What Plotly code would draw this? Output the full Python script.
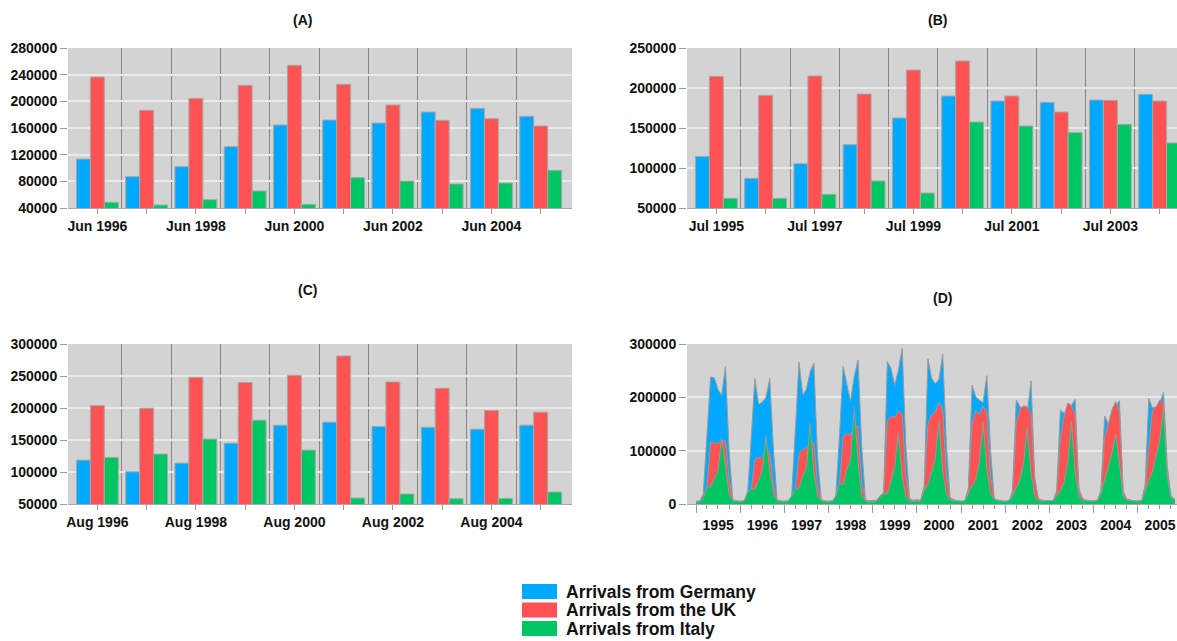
import plotly.graph_objects as go
import pandas as pd

# ---------------- data ----------------
groups = list(range(10))
a_ticktext = ["Jun 1996", "", "Jun 1998", "", "Jun 2000", "", "Jun 2002", "", "Jun 2004", ""]
b_ticktext = ["Jul 1995", "", "Jul 1997", "", "Jul 1999", "", "Jul 2001", "", "Jul 2003", ""]
c_ticktext = ["Aug 1996", "", "Aug 1998", "", "Aug 2000", "", "Aug 2002", "", "Aug 2004", ""]

a_germany = [113500, 87000, 102000, 132000, 164500, 172000, 167500, 184000, 189500, 177500]
a_uk = [236500, 186500, 204500, 224000, 254000, 225500, 194500, 171500, 174000, 163000]
a_italy = [48500, 44500, 52500, 65500, 45500, 85500, 80500, 76000, 77500, 96500]

b_germany = [114500, 87100, 105400, 129200, 162500, 190000, 183700, 182100, 185000, 192100]
b_uk = [214600, 190800, 215000, 192500, 222500, 233750, 190000, 170000, 184600, 183700]
b_italy = [62100, 62100, 67100, 83700, 68700, 157500, 152500, 144200, 154600, 131250]

c_germany = [118600, 100400, 113900, 145100, 173200, 177900, 171100, 170000, 166900, 173200]
c_uk = [203850, 199700, 248000, 239700, 251100, 281300, 240700, 230900, 196000, 193500]
c_italy = [122800, 128000, 151400, 181000, 134200, 59400, 65600, 58300, 58800, 68700]

# Panel D: monthly values as drawn (blue, red, green areas), Jan 1995 onwards
d_blue = [
    5000, 6000, 18000, 130000, 238000, 236500, 214600, 203850, 258000, 100000, 8000, 6000,
    5000, 6000, 16000, 125000, 235000, 186500, 190800, 199700, 235000, 105000, 8000, 6000,
    5000, 6000, 15000, 140000, 266000, 204500, 215000, 248000, 264000, 90000, 8000, 6000,
    5000, 6000, 14000, 130000, 258000, 224000, 192500, 239700, 270000, 110000, 8000, 6000,
    6000, 7000, 15000, 22000, 267000, 254000, 222500, 251100, 292000, 110000, 10000, 7000,
    8000, 7000, 35000, 272000, 236000, 225500, 233750, 281300, 110000, 12000, 8000, 6000,
    5000, 6000, 30000, 223000, 201000, 194500, 190000, 240700, 100000, 10000, 7000, 6000,
    5000, 6000, 25000, 195000, 182000, 171500, 170000, 230900, 50000, 8000, 7000, 6000,
    6000, 7000, 25000, 176000, 170000, 174000, 184600, 196000, 30000, 10000, 7000, 6000,
    6000, 7000, 25000, 165000, 150000, 163000, 183700, 193500, 25000, 9000, 7000, 6000,
    6000, 7000, 35000, 198000, 180000, 182000, 190000, 209000, 70000, 15000, 10000,
]
d_red = [
    4000, 5000, 12000, 30000, 117000, 113500, 114500, 118600, 118000, 45000, 7000, 5000,
    5000, 6000, 12000, 26000, 84000, 87000, 87100, 100400, 97000, 35000, 7000, 5000,
    5000, 6000, 10000, 26000, 94000, 102000, 105400, 113900, 115000, 35000, 7000, 5000,
    5000, 6000, 10000, 38000, 126000, 132000, 129200, 145100, 145000, 40000, 7000, 5000,
    5000, 6000, 10000, 20000, 155000, 164500, 162500, 173200, 170000, 55000, 8000, 6000,
    6000, 6000, 30000, 150000, 168000, 172000, 190000, 177900, 55000, 10000, 7000, 5000,
    5000, 6000, 25000, 150000, 175000, 167500, 183700, 171100, 50000, 10000, 7000, 5000,
    5000, 6000, 20000, 150000, 178000, 184000, 182100, 170000, 45000, 10000, 7000, 5000,
    5000, 6000, 20000, 120000, 165000, 189500, 185000, 166900, 25000, 10000, 7000, 5000,
    5000, 6000, 22000, 125000, 150000, 177500, 192100, 173200, 20000, 9000, 7000, 5000,
    5000, 6000, 30000, 104000, 176000, 182000, 195000, 189000, 60000, 12000, 9000,
]
d_green = [
    3000, 4000, 10000, 32000, 32000, 48500, 62100, 122800, 68000, 20000, 6000, 5000,
    4000, 5000, 22000, 28000, 28000, 44500, 62100, 128000, 62000, 20000, 6000, 4000,
    4000, 5000, 15000, 28000, 30000, 52500, 67100, 151400, 60000, 16000, 6000, 4000,
    4000, 5000, 15000, 40000, 36000, 65500, 83700, 181000, 80000, 16000, 6000, 4000,
    4000, 5000, 12000, 20000, 19000, 45500, 68700, 134200, 50000, 15000, 6000, 4000,
    5000, 6000, 25000, 37000, 60000, 85500, 157500, 59400, 20000, 7000, 6000, 5000,
    5000, 6000, 20000, 35000, 45000, 80500, 152500, 65600, 20000, 8000, 6000, 5000,
    5000, 6000, 15000, 30000, 45000, 76000, 144200, 58300, 15000, 6000, 6000, 5000,
    5000, 6000, 15000, 25000, 40000, 77500, 154600, 58800, 15000, 7000, 6000, 5000,
    5000, 6000, 20000, 45000, 70000, 96500, 131250, 68700, 15000, 7000, 6000, 5000,
    5000, 6000, 25000, 45000, 60000, 90000, 120000, 182000, 50000, 12000, 8000,
]
d_months = pd.date_range("1995-01-01", periods=len(d_blue), freq="MS")

series_names = ["Arrivals from Germany", "Arrivals from the UK", "Arrivals from Italy"]

# ---------------- styling ----------------
W, H = 1177, 641
BLUE, RED, GREEN = "#00A9FF", "#FF5252", "#00C563"
colors = [BLUE, RED, GREEN]
BG = "#D3D3D3"
GRID = "#E9E9E9"
SEP = "#858585"
FONT = "Liberation Sans"
tickfont = dict(family=FONT, size=14, color="#111111", weight="bold")


def fx(x):
    return x / W


def fy(y):
    return 1 - y / H


fig = go.Figure()

panels = [
    ("x", "y", [a_germany, a_uk, a_italy]),
    ("x2", "y2", [b_germany, b_uk, b_italy]),
    ("x3", "y3", [c_germany, c_uk, c_italy]),
]
for xa, ya, vals in panels:
    for name, col, v in zip(series_names, colors, vals):
        fig.add_trace(go.Bar(
            x=groups, y=v, name=name, marker_color=col,
            marker_line=dict(color="#A8A8A8", width=1),
            xaxis=xa, yaxis=ya, showlegend=False,
        ))

for name, col, v in zip(series_names, colors, [d_blue, d_red, d_green]):
    fig.add_trace(go.Scatter(
        x=d_months, y=v, name=name, mode="lines", fill="tozeroy",
        fillcolor=col, line=dict(color="#9A9A9A", width=1),
        xaxis="x4", yaxis="y4", showlegend=False,
    ))

sep_vals = [i + 0.5 for i in range(9)]


def bar_xaxis(dom, rng, ticktext, anchor):
    return dict(
        domain=dom, range=rng, anchor=anchor,
        tickmode="array", tickvals=groups, ticktext=ticktext,
        ticks="outside", ticklen=5, tickcolor="#9A9A9A", tickwidth=1,
        showgrid=False, zeroline=False, showline=True, linecolor="#AAAAAA",
        tickfont=tickfont, automargin=False,
        minor=dict(tickmode="array", tickvals=sep_vals, showgrid=True,
                   gridcolor=SEP, gridwidth=1, ticks=""),
    )


def yaxis(dom, rng, dtick, anchor):
    return dict(
        domain=dom, range=rng, dtick=dtick, tick0=0, anchor=anchor,
        tickformat="d", ticks="outside", ticklen=7, tickcolor="#9A9A9A",
        showgrid=True, gridcolor=GRID, gridwidth=1.5, zeroline=False,
        showline=False, tickfont=tickfont, automargin=False,
    )


yAB = [fy(208), fy(48)]
yCD = [fy(504), fy(344)]
xAC = [fx(68), fx(572)]
xBD = [fx(687), 1.0]

fig.update_layout(
    width=W, height=H,
    margin=dict(l=0, r=0, t=0, b=0),
    paper_bgcolor="white", plot_bgcolor=BG,
    barmode="group", bargap=0.15, bargroupgap=0,
    font=dict(family=FONT, color="#111111"),
    xaxis=bar_xaxis(xAC, [-0.596, 9.636], a_ticktext, "y"),
    yaxis=yaxis(yAB, [40000, 280000], 40000, "x"),
    xaxis2=bar_xaxis(xBD, [-0.596, 9.353], b_ticktext, "y2"),
    yaxis2=yaxis(yAB, [50000, 250000], 50000, "x2"),
    xaxis3=bar_xaxis(xAC, [-0.596, 9.636], c_ticktext, "y3"),
    yaxis3=yaxis(yCD, [50000, 300000], 50000, "x3"),
    xaxis4=dict(
        domain=xBD, anchor="y4", type="date",
        range=["1994-10-18", "2005-11-20"],
        dtick="M12", tick0="1995-01-01", tickformat="%Y", ticklabelmode="period",
        ticks="outside", ticklen=8, tickcolor="#9A9A9A",
        showgrid=False, zeroline=False, showline=True, linecolor="#AAAAAA",
        tickfont=tickfont, automargin=False,
        minor=dict(dtick="M3", ticks="outside", ticklen=4, tickcolor="#9A9A9A", showgrid=False),
    ),
    yaxis4=yaxis(yCD, [0, 300000], 100000, "x4"),
)

titles = [("(A)", 302, 20), ("(B)", 937, 20), ("(C)", 308, 290), ("(D)", 942, 298)]
annotations = []
for t, x, y in titles:
    annotations.append(dict(
        text=t, x=fx(x), y=fy(y), xref="paper", yref="paper",
        showarrow=False, xanchor="center", yanchor="middle",
        font=dict(family=FONT, size=14, color="#111111", weight="bold"),
    ))

# legend (drawn as swatches + text)
shapes = []
leg_rows = [584, 602.5, 621]
for name, col, top in zip(series_names, colors, leg_rows):
    shapes.append(dict(
        type="rect", xref="paper", yref="paper",
        x0=fx(522), x1=fx(557), y0=fy(top + 15), y1=fy(top),
        fillcolor=col, line=dict(width=0),
    ))
    annotations.append(dict(
        text=name, x=fx(564), y=fy(top + 7.5), xref="paper", yref="paper",
        showarrow=False, xanchor="left", yanchor="middle",
        font=dict(family=FONT, size=17.5, color="#111111", weight="bold"),
    ))

fig.update_layout(annotations=annotations, shapes=shapes)

fig.write_html(
    "out.html",
    config={"displayModeBar": False},
    post_script="document.body.style.margin='0';document.body.style.overflow='hidden';",
)
